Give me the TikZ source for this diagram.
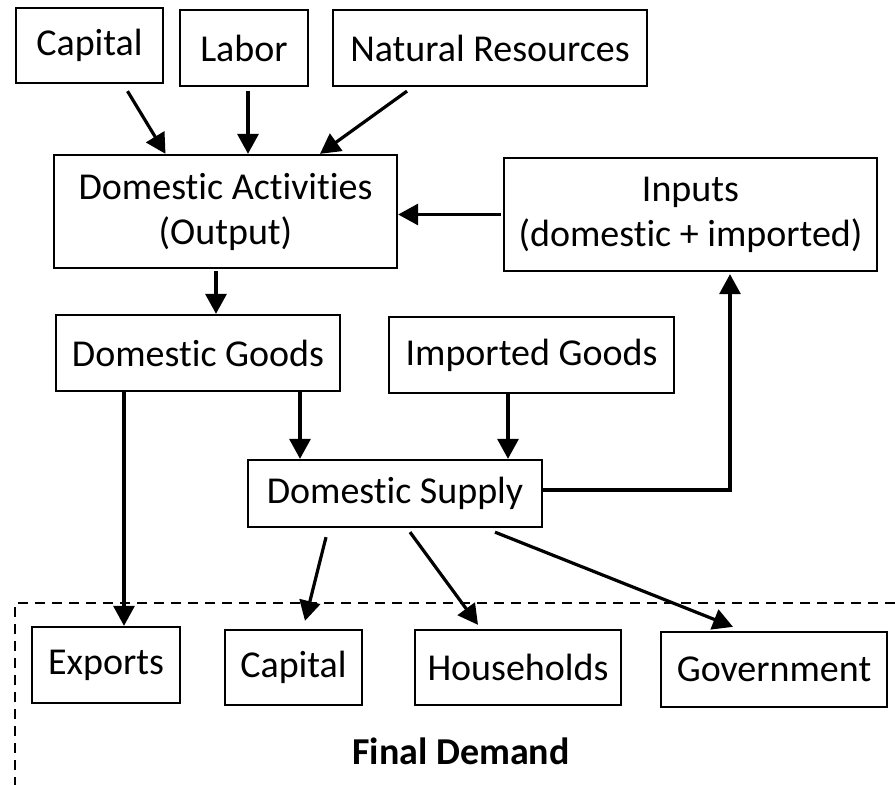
\documentclass[tikz,border=0pt]{standalone}
\usepackage{fontspec}
\setmainfont[Ligatures=NoCommon]{Carlito}
\usetikzlibrary{arrows.meta}
\begin{document}
\begin{tikzpicture}[x=1pt,y=-1pt,
  font=\fontsize{38}{45}\selectfont,
  box/.style={draw, line width=2.3pt, align=center, inner sep=0pt},
  arr/.style={line width=3.2pt, -{Triangle[length=20pt,width=21pt]}}]
\useasboundingbox (0,0) rectangle (895,785);
\node[box, minimum width=147, minimum height=75] (capA) at (89.5,45.5) {Capital};
\node[box, minimum width=128, minimum height=76] (labor) at (244,48) {Labor};
\node[box, minimum width=314, minimum height=76] (natres) at (490,48) {Natural Resources};
\node[box, minimum width=343, minimum height=113] (domact) at (225.5,211.5) {Domestic Activities\\(Output)};
\node[box, minimum width=373, minimum height=113] (inputs) at (690.5,214.5) {Inputs\\(domestic + imported)};
\node[box, minimum width=284, minimum height=76] (domgoods) at (198,353) {Domestic Goods};
\node[box, minimum width=285, minimum height=76] (impgoods) at (531.5,355) {Imported Goods};
\node[box, minimum width=294, minimum height=67] (domsup) at (395,493.5) {Domestic Supply};
\node[box, minimum width=148, minimum height=76] (exports) at (106,665) {Exports};
\node[box, minimum width=137, minimum height=75] (capB) at (293.5,667.5) {Capital};
\node[box, minimum width=206, minimum height=75] (house) at (518,667.5) {Households};
\node[box, minimum width=226, minimum height=75] (govt) at (774,669.5) {Government};
\node (final) at (461,751) {\bfseries Final Demand};
\draw[line width=2pt, dash pattern=on 10pt off 7pt] (895,603) -- (15,603) -- (15,785);
\draw[arr] ([xshift=38pt,yshift=-7pt]capA.south) -- ([xshift=-60pt]domact.north);
\draw[arr] ([xshift=4pt,yshift=-4pt]labor.south) -- ([xshift=22.5pt]domact.north);
\draw[arr] ([xshift=-83pt,yshift=-4pt]natres.south) -- ([xshift=94.5pt]domact.north);
\draw[arr] ([xshift=-2pt]inputs.west) -- (inputs.west -| domact.east);
\draw[arr] ([xshift=-9.5pt,yshift=-2pt]domact.south) -- ([xshift=-9.5pt]domact.south |- domgoods.north);
\draw[arr] ([xshift=18pt]exports.north |- domgoods.south) -- ([xshift=18pt]exports.north);
\draw[arr] ([xshift=102pt]domgoods.south) -- ([xshift=102pt]domgoods.south |- domsup.north);
\draw[arr] ([xshift=-23.5pt]impgoods.south) -- ([xshift=-23.5pt]impgoods.south |- domsup.north);
\draw[arr] ([yshift=3.5pt]domsup.east) -| ([xshift=39.5pt,yshift=-2pt]inputs.south);
\draw[arr] ([xshift=-69pt,yshift=-9pt]domsup.south) -- ([xshift=11.5pt,yshift=8pt]capB.north);
\draw[arr] ([xshift=15pt,yshift=-4pt]domsup.south) -- ([xshift=-40pt,yshift=4pt]house.north);
\draw[arr] ([xshift=100pt,yshift=-4pt]domsup.south) -- ([xshift=-41pt,yshift=4pt]govt.north);
\end{tikzpicture}
\end{document}
